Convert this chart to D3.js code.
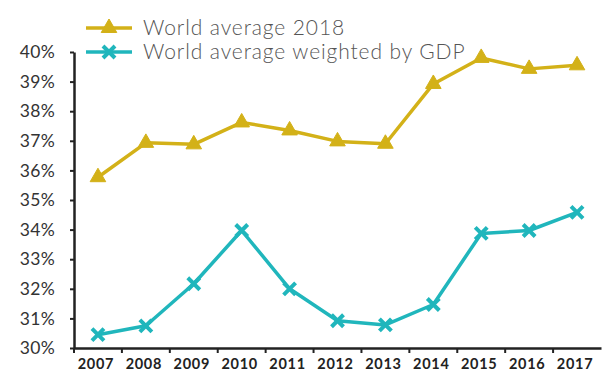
<!DOCTYPE html>
<html><head><meta charset="utf-8">
<script src="https://cdn.jsdelivr.net/npm/d3@7"></script>
<style>body{margin:0;background:#fff}svg{display:block}</style>
</head><body>
<script>
const years = ["2007","2008","2009","2010","2011","2012","2013","2014","2015","2016","2017"];
const worldAvg = [35.77, 36.93, 36.88, 37.62, 37.35, 36.98, 36.9, 38.92, 39.8, 39.43, 39.55];
const worldGdp = [30.45, 30.75, 32.17, 33.97, 32.0, 30.92, 30.78, 31.47, 33.87, 33.97, 34.58];
const yTicks = [30,31,32,33,34,35,36,37,38,39,40];
const seriesNames = ["World average 2018", "World average weighted by GDP"];
const colors = ["#D3B118", "#20B6BC"];

(function () {
const W = 603, H = 374;
const svg = d3.select("body").append("svg").attr("width", W).attr("height", H);
const mL = 74, mR = 601, mT = 52, mB = 348;
const x = d3.scaleBand().domain(years).range([mL, mR]);
const y = d3.scaleLinear().domain([30, 40]).range([mB, mT]);

// y axis
const ya = svg.append("g").attr("transform", `translate(${mL},0)`)
  .call(d3.axisLeft(y).tickValues(yTicks).tickSize(4).tickSizeOuter(0).tickFormat(d => d + "%"));
ya.select(".domain").attr("stroke", "#222").attr("stroke-width", 2.5);
ya.selectAll(".tick line").attr("stroke", "#222").attr("stroke-width", 2);
ya.selectAll(".tick text").attr("x", -19).attr("fill", "#333")
  .style("font-family", "Lato, sans-serif").style("font-size", "17.5px").style("font-weight", "400")
  .style("letter-spacing", "0.3px");

// x axis
const xa = svg.append("g").attr("transform", `translate(0,${mB})`)
  .call(d3.axisBottom(x).tickSizeOuter(0).tickSize(0));
xa.select(".domain").attr("stroke", "#222").attr("stroke-width", 2.5);
xa.selectAll(".tick text").attr("y", 11).attr("dx", -2).attr("fill", "#222")
  .style("font-family", "Lato, sans-serif").style("font-size", "14.5px").style("font-weight", "700")
  .style("letter-spacing", "0.7px");
xa.selectAll(".bt").data(years).enter().append("line").attr("class", "bt")
  .attr("x1", d => x(d)).attr("x2", d => x(d)).attr("y1", 0).attr("y2", 5)
  .attr("stroke", "#222").attr("stroke-width", 2);

const cx = d => x(d) + x.bandwidth() / 2;
const line = d3.line().x((d, i) => cx(years[i])).y(d => y(d));
const tri = d3.symbol().type(d3.symbolTriangle).size(105)();
const xsym = "M-6,-6L6,6M-6,6L6,-6";

function drawSeries(vals, color, kind) {
  svg.append("path").datum(vals).attr("d", line).attr("fill", "none")
    .attr("stroke", color).attr("stroke-width", 3.5).attr("stroke-linejoin", "round");
  const g = svg.selectAll(null).data(vals).enter().append("path")
    .attr("transform", (d, i) => `translate(${cx(years[i])},${y(d)})`);
  if (kind === "tri") g.attr("d", tri).attr("fill", color).attr("stroke", color).attr("stroke-width", 1);
  else g.attr("d", xsym).attr("fill", "none").attr("stroke", color).attr("stroke-width", 4);
}
drawSeries(worldAvg, colors[0], "tri");
drawSeries(worldGdp, colors[1], "x");

// legend
const legY = [28, 52];
seriesNames.forEach((n, i) => {
  const g = svg.append("g");
  g.append("line").attr("x1", 86).attr("x2", 132).attr("y1", legY[i]).attr("y2", legY[i])
    .attr("stroke", colors[i]).attr("stroke-width", 3.5);
  const p = g.append("path").attr("transform", `translate(109,${legY[i]})`);
  if (i === 0) p.attr("d", tri).attr("fill", colors[i]).attr("stroke", colors[i]);
  else p.attr("d", xsym).attr("fill", "none").attr("stroke", colors[i]).attr("stroke-width", 4);
  g.append("text").attr("x", 143).attr("y", legY[i] + 7).text(n)
    .attr("fill", "#555").style("font-family", "Lato, sans-serif").style("font-size", "21px").style("font-weight", "300")
    .style("letter-spacing", "0.9px");
});
})();
</script>
</body></html>
